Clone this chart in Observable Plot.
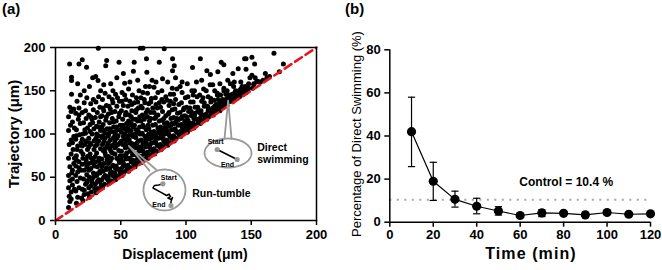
<!DOCTYPE html>
<html><head><meta charset="utf-8">
<script src="https://cdn.jsdelivr.net/npm/d3@7"></script>
<script src="https://cdn.jsdelivr.net/npm/@observablehq/plot@0.6"></script>
<style>
body{margin:0;background:#fff;font-family:"Liberation Sans",Arial,sans-serif;}
#wrap{position:relative;width:662px;height:270px;overflow:hidden;background:#fff;}
.panel{position:absolute;top:0;}
.lbl{position:absolute;font-weight:bold;color:#000;white-space:nowrap;line-height:1;}
svg [aria-label$="tick"] path, svg [aria-label$="tick"] line, svg [aria-label$="axis"] line{stroke-width:1.5px}
</style></head><body>
<div id="wrap">
  <div class="panel" id="pa" style="left:0"></div>
  <div class="panel" id="pb" style="left:330px"></div>
  <div class="lbl" style="left:2px;top:1px;font-size:15px">(a)</div>
  <div class="lbl" style="left:345px;top:1px;font-size:15px">(b)</div>
  <div class="lbl" id="xa" style="left:185px;top:247px;font-size:14px;transform:translateX(-50%)">Displacement (μm)</div>
  <div class="lbl" id="ya" style="left:13px;top:133.5px;font-size:15px;transform:translate(-50%,-50%) rotate(-90deg)">Trajectory (μm)</div>
  <div class="lbl" id="xb" style="left:531px;top:246px;font-size:16px;letter-spacing:1.1px;transform:translateX(-50%)">Time (min)</div>
  <div class="lbl" id="yb" style="left:355.5px;top:134px;font-size:13px;font-weight:normal;transform:translate(-50%,-50%) rotate(-90deg)">Percentage of Direct Swimming (%)</div>
</div>
<script>
// ---------- Panel (a): displacement vs trajectory (µm) ----------
const tracks = [
[10,15],[11,22],[10.5,28],[12,33],[10,38],[13,41],[11,46],[10,52],[12.5,55],[11,62],[14,66],[10,72],[12,77],[13.5,82],[10.5,88],[12,93],[14,97],[10,104],[11.5,110],[13,114],[10,120],[12,126],[14,129],[11,131],[12.3,146],[10.8,181],[12.3,165.7],[12.3,161.8],[14.5,107],[13,90],[14.5,72],[13,48],[14.5,36],[12,25],[13,58],
[16,20],[17,27],[15.5,34],[18,38],[16.5,45],[19,49],[17,56],[15.5,63],[18,68],[16,75],[19.5,80],[17,86],[15.5,94],[18.5,99],[16,105],[19,112],[17.5,117],[15.5,124],[18,130],[16.5,138],[19,145],[18,181],[17,158],[16,98],[19.5,58],[15.5,52],[19.5,90],[18,122],[16.5,82],[18,61],[16,70],
[21,23],[22,30],[20.5,36],[23,42],[21.5,48],[24,53],[22,58],[20.5,65],[23.5,70],[21,77],[24.5,82],[22.5,88],[20.5,94],[23,101],[24.5,107],[21.5,113],[23.5,118],[20.5,125],[22,136],[24,142],[20.5,185.7],[23.8,177.3],[22,150],[24,62],[21,100],[23,92],[24.5,74],[20.5,86],[23,127],[24.5,46],[22.5,105],[20,26],[22,35],[24,44],[23,66],[21,72],
[26,27],[27.5,33],[25.5,38],[28,44],[26,50],[29,55],[27,60],[25.5,66],[28.5,71],[26.5,77],[29.5,82],[27,88],[25.5,95],[28,100],[29.5,106],[26.5,111],[28,117],[25.5,122],[29,128],[27,135],[26,155],[28.5,165],[29,140],[27.5,72],[25.5,58],[29.5,92],[26.5,103],[28,48],[29.5,63],[27,120],[25.5,85],[28.5,113],[25,31],[27,40],[29,50],[28,67],[26,90],
[31,32],[32.5,37],[30.5,42],[33,47],[31.5,52],[34,57],[32,62],[30.5,68],[33.5,72],[31.5,78],[34.5,83],[32,88],[30.5,93],[33,98],[34.5,104],[31.5,109],[33.5,114],[30.5,119],[32,125],[34,131],[31,137],[33,143],[32.8,199],[30.8,166.5],[32.6,161.8],[34.6,150],[34,66],[30.5,86],[33,92],[31.5,100],[34.5,120],[32,54],[34,45],[30.5,74],[33,108],[30,37],[32,45],[34,55],[33,69],[31,95],
[36,38],[37.5,42],[35.5,47],[38,52],[36.5,57],[39,61],[37,66],[35.5,71],[38.5,75],[36.5,81],[39.5,86],[37,91],[35.5,96],[38,101],[39.5,106],[36.5,111],[38.5,116],[35.5,121],[37,127],[39,133],[36,140],[38,147],[39.2,185],[38.5,179],[37,157],[35.5,62],[39.5,70],[36,88],[38,95],[37,104],[39,120],[35.5,108],[38,78],[39.5,49],[36.5,130],[35,41],[37,50],[39,59],[38,83],[36,98],
[41,43],[42.5,46],[40.5,51],[43,56],[41.5,60],[44,64],[42,69],[40.5,74],[43.5,78],[41.5,83],[44.5,88],[42,93],[40.5,98],[43,103],[44.5,108],[41.5,113],[43.5,118],[40.5,123],[42,129],[44,136],[41,143],[42.3,158],[44,150],[40.5,90],[43,72],[44.5,96],[41.5,106],[43,125],[44.5,114],[40.5,66],[42.5,80],[44,52],[41,132],[43.5,140],[40,47],[42,55],[44,63],[43,86],[41,101],
[46,47],[47.5,51],[45.5,55],[48,59],[46.5,63],[49,67],[47,72],[45.5,77],[48.5,81],[46.5,86],[49.5,90],[47,95],[45.5,100],[48,105],[49.5,110],[46.5,115],[48.5,120],[45.5,126],[47,132],[49,138],[46,146],[48.7,183],[47,165],[45.5,92],[49.5,75],[46.5,108],[48,98],[45.5,84],[49,124],[47.5,142],[46,60],[48.5,70],[49.5,54],[45,51],[47,60],[49,69],[48,88],[46,103],
[51,52],[52.5,56],[50.5,60],[53,63],[51.5,67],[54,71],[52,75],[50.5,80],[53.5,84],[51.5,88],[54.5,92],[52,97],[50.5,102],[53,107],[54.5,112],[51.5,117],[53.5,122],[50.5,127],[52,133],[54,140],[51,148],[53,158.8],[52,170],[50.5,92],[54.5,78],[53,100],[51.5,110],[54,125],[50.5,70],[53.5,88],[52,64],[54.5,104],[51,138],[53,145],[54.5,58],[50,56],[52,66],[54,74],[53,94],[51,106],
[56,57],[57.5,61],[55.5,64],[58,68],[56.5,72],[59,76],[57,80],[55.5,85],[58.5,89],[56.5,93],[59.5,97],[57,102],[55.5,107],[58,112],[59.5,117],[56.5,122],[58.5,127],[55.5,132],[57,138],[59,145],[56,152],[57.5,100],[59.5,84],[56.5,110],[58,120],[55.5,95],[59,70],[57,88],[58.5,134],[56,115],[59.5,108],[57,160],[59.7,172.6],[55,61],[57,71],[59,80],[58,104],[56,98],
[61,62],[62.5,66],[60.5,69],[63,72],[61.5,76],[64,80],[62,84],[60.5,88],[63.5,92],[61.5,96],[64.5,100],[62,105],[60.5,110],[63,115],[64.5,120],[61.5,125],[63.5,130],[60.5,136],[62,142],[64,150],[60.3,183],[65,199],[63,162],[61,98],[64.5,108],[62.5,90],[60.5,78],[63,137],[64.5,70],[61.5,117],[63.5,103],[62,128],[60,65],[62,76],[64,85],[61,100],
[66,67],[67.5,71],[65.5,74],[68,77],[66.5,81],[69,85],[67,89],[65.5,93],[68.5,97],[66.5,101],[69.5,105],[67,110],[65.5,115],[68,120],[69.5,125],[66.5,130],[68.5,136],[65.5,142],[67,148],[69,155],[67,199],[69.7,187],[70,171.5],[66,100],[69.5,90],[67.5,108],[65.5,85],[68,117],[69.5,78],[66.5,122],[68,140],[65.5,132],[65,70],[67,80],[69,93],
[71,72],[72.5,76],[70.5,79],[73,82],[71.5,86],[74,90],[72,94],[70.5,98],[73.5,102],[71.5,106],[74.5,110],[72,115],[70.5,120],[73,125],[74.5,130],[71.5,135],[73.5,141],[70.5,147],[72,155],[74,162],[71,110],[74.5,96],[72.5,88],[70.5,128],[73,118],[74.5,80],[71.5,100],[73,137],[70,75],[72,85],[74,98],
[76,77],[77.5,80],[75.5,83],[78,87],[76.5,91],[79,95],[77,99],[75.5,103],[78.5,107],[76.5,111],[79.5,115],[77,120],[75.5,125],[78,130],[79.5,136],[76.5,142],[78.5,148],[75.5,154],[77,160],[79.5,183],[77,96],[79.5,104],[76,118],[78.5,122],[75.5,90],[79,86],[77,134],[75,81],[77,90],[79,103],
[81,82],[82.5,85],[80.5,88],[83,92],[81.5,96],[84,100],[82,104],[80.5,108],[83.5,112],[81.5,116],[84.5,121],[82,126],[80.5,131],[83,137],[84.5,143],[81.5,150],[83.3,198.5],[82,164],[84,90],[80.5,100],[83,118],[84.5,108],[81.5,140],[82.5,95],[80,85],[82,95],[84,107],
[86,87],[87.5,90],[85.5,93],[88,97],[86.5,101],[89,105],[87,109],[85.5,113],[88.5,118],[86.5,123],[89.5,128],[87,133],[85.5,139],[88,146],[89.5,153],[89.7,187],[89.7,173],[86,160],[88.5,110],[85.5,104],[89,95],[87,125],[88,138],[85,91],[87,99],[89,112],
[91,92],[92.5,95],[90.5,98],[93,102],[91.5,106],[94,110],[92,114],[90.5,119],[93.5,124],[91.5,129],[94.5,134],[92,140],[90.5,146],[93,152],[91,179],[92,165],[94.5,100],[91,112],[93,118],[90.5,135],[90,95],[92,104],[94,116],
[96,97],[97.5,100],[95.5,103],[98,107],[96.5,111],[99,115],[97,120],[95.5,125],[98.5,130],[96.5,136],[99.5,142],[97,148],[95.5,155],[98,104],[99.5,110],[96,118],[98,128],[97,160],[95,100],[97,108],[99,121],
[101,102],[102.5,105],[100.5,108],[103,112],[101.5,116],[104,121],[102,126],[100.5,131],[103.5,137],[101.5,143],[104.5,150],[102,110],[104,108],[100.5,120],[103,130],[105,177],[101,158],[100,105],[102,113],[104,126],
[106,107],[107.5,110],[105.5,113],[108,117],[106.5,121],[109,126],[107,131],[105.5,137],[108.5,143],[106.5,150],[109.5,114],[107,124],[105.5,145],[108,160],[106,118],[105,110],[107,118],[109,131],
[111,112],[112.5,115],[110.5,118],[113,122],[111.5,127],[114,132],[112,138],[110.5,145],[113.5,152],[111,187],[112,162],[114,117],[111,124],[113,142],[110,115],[112,122],[114,136],
[116,117],[117.5,120],[115.5,123],[118,127],[116.5,132],[119,137],[117,143],[115.5,150],[118.5,157],[116,173],[118.7,168.8],[119,122],[117,130],[115,120],[117,127],[119,141],
[121,122],[122.5,126],[120.5,130],[123,134],[121.5,139],[124,145],[122,150],[124.4,172],[120.5,157],[123,128],[124.5,140],[120,125],[122,132],[124,147],
[126,127],[127.5,131],[125.5,135],[128,140],[126.5,145],[129,150],[127,183],[129,180],[128,132],[126,158],[129.5,136],[125,130],[127,137],[129,153],
[131,133],[132.5,137],[130.5,140],[133,145],[131.5,150],[134,158],[132,162],[134.5,138],[130.5,146],[130,135],[132,142],
[136,138],[137.5,142],[135.5,146],[138,150],[136.5,155],[135.9,170],[139,144],[137,160],[135,141],[137,147],
[141,143],[142.5,147],[140.5,150],[143,155],[140,175.3],[144.9,187],[142,160],[144,146],[140,145],[142,152],
[146,148],[147.5,152],[146,175],[148,158],[149,165],[145.5,155],[146,187],[145,151],[148,153],
[151,153],[152,157],[150.5,188.8],[152.6,181],[153,165],[154,160],[150.5,168],[152,158],[155,161],
[157,160],[160.8,170],[162,165],[167.4,193.4],[174.6,181],[159,162],[171.5,172],[164,166.5]
];
const axisTicksA = [0, 50, 100, 150, 200];

// ---------- Panel (b): % direct swimming over time ----------
const timeMin = [10, 20, 30, 40, 50, 60, 70, 80, 90, 100, 110, 120];
const pctDirect = [42.0, 19.0, 10.6, 7.4, 5.2, 3.1, 4.3, 4.1, 3.4, 4.5, 3.7, 3.9];
const errLow  = [25.8, 10.1, 7.0, 3.9, 3.3, 2.6, 2.6, 3.5, 2.9, 3.8, 3.1, 3.3];
const errHigh = [58.0, 27.8, 14.4, 11.1, 7.2, 3.6, 5.8, 4.7, 3.9, 5.2, 4.3, 4.5];
const controlPct = 10.4;
const timeTicks = [0, 20, 40, 60, 80, 100, 120];
const pctTicks = [0, 20, 40, 60, 80];

const font = '"Liberation Sans", Arial, sans-serif';
const grey = "#999999";

// annotation geometry (data coordinates of panel a)
function ellipse(cx, cy, rx, ry) {
  return d3.range(0, 361, 5).map(a => [cx + rx * Math.cos(a * Math.PI / 180), cy + ry * Math.sin(a * Math.PI / 180)]);
}
const directBalloon = ellipse(132.2, 78.0, 18.0, 16.8);
const directPointer = [[129.5, 94.4], [132.3, 138.7], [134.9, 94.4]];
const directPath = [[123.9, 82.1], [139.2, 70.5]];
const tumbleBalloon = ellipse(83.5, 35.3, 16.1, 23.7);
const tumblePointer = [[72.0, 57.6], [56.2, 86.1], [77.0, 58.9]];
const tumblePath = [[82.3, 42.4], [79.0, 41.0], [75.9, 40.5], [74.7, 37.6], [80.5, 32.9], [85.1, 28.9], [87.0, 30.6], [88.1, 27.7], [86.2, 26.0], [88.5, 24.3], [89.7, 26.6], [88.5, 22.0], [88.5, 17.3]];

const pa = Plot.plot({
  width: 330, height: 270,
  marginLeft: 55, marginRight: 14, marginTop: 47, marginBottom: 50,
  style: {fontFamily: font, fontSize: "13px", fontWeight: "bold", color: "#000", background: "transparent", overflow: "visible"},
  x: {domain: [0, 200], ticks: axisTicksA, tickSize: 5, tickPadding: 4, label: null},
  y: {domain: [0, 200], ticks: axisTicksA, tickSize: 5, tickPadding: 5, label: null},
  marks: [
    Plot.dot(tracks, {x: d => d[0], y: d => d[1], r: 2.5, fill: "#000"}),
    Plot.line([[0, 0], [200, 200]], {stroke: "#e8141c", strokeWidth: 2.6, strokeDasharray: "8,4.5"}),
    Plot.line(directBalloon, {stroke: grey, strokeWidth: 1.8, fill: "#fff"}),
    Plot.line(directPointer, {stroke: grey, strokeWidth: 1.8}),
    Plot.line(directPath, {stroke: "#000", strokeWidth: 1.6}),
    Plot.dot([directPath[0], directPath[1]], {x: d => d[0], y: d => d[1], r: 2.6, fill: grey}),
    Plot.text(["Start"], {x: 122.7, y: 91.3, fontSize: 7, fontWeight: "bold"}),
    Plot.text(["End"], {x: 131.8, y: 64.7, fontSize: 7, fontWeight: "bold"}),
    Plot.text(["Direct"], {x: 154.6, y: 80.9, textAnchor: "start", lineAnchor: "bottom", fontSize: 10.5, letterSpacing: "0.4px"}),
    Plot.text(["swimming"], {x: 154.6, y: 65.9, textAnchor: "start", lineAnchor: "bottom", fontSize: 10.5, letterSpacing: "0.4px"}),
    Plot.line(tumbleBalloon, {stroke: grey, strokeWidth: 1.8, fill: "#fff"}),
    Plot.line(tumblePointer, {stroke: grey, strokeWidth: 1.8}),
    Plot.line(tumblePath, {stroke: "#000", strokeWidth: 1.5}),
    Plot.dot([tumblePath[0], tumblePath[tumblePath.length - 1]], {x: d => d[0], y: d => d[1], r: 2.6, fill: grey}),
    Plot.text(["Start"], {x: 86.8, y: 49.4, fontSize: 7, fontWeight: "bold"}),
    Plot.text(["End"], {x: 79.2, y: 17.9, fontSize: 7, fontWeight: "bold"}),
    Plot.text(["Run-tumble"], {x: 104.8, y: 26.9, textAnchor: "start", lineAnchor: "bottom", fontSize: 10.5, letterSpacing: "0.3px"}),
    Plot.frame({stroke: "#000", strokeWidth: 1.5})
  ]
});
document.getElementById("pa").appendChild(pa);

const rows = timeMin.map((t, i) => ({t, v: pctDirect[i], lo: errLow[i], hi: errHigh[i]}));
const cap = {draw(ctx) { ctx.moveTo(-3.6, 0); ctx.lineTo(3.6, 0); }};

const pb = Plot.plot({
  width: 332, height: 270,
  marginLeft: 59.3, marginRight: 12, marginTop: 49.3, marginBottom: 48.3,
  style: {fontFamily: font, fontSize: "13px", fontWeight: "bold", color: "#000", background: "transparent", overflow: "visible"},
  x: {domain: [0, 120], ticks: timeTicks, tickSize: 5, tickPadding: 3, label: null},
  y: {domain: [0, 80], ticks: pctTicks, tickSize: 5, tickPadding: 4, label: null},
  marks: [
    Plot.ruleY([controlPct], {x1: 0, x2: 120, stroke: "#a6a6a6", strokeWidth: 2, strokeDasharray: "2,5.5"}),
    Plot.ruleX(rows, {x: "t", y1: "lo", y2: "hi", stroke: "#000", strokeWidth: 1.2}),
    Plot.dot(rows, {x: "t", y: "lo", symbol: cap, fill: "none", stroke: "#000", strokeWidth: 1.2}),
    Plot.dot(rows, {x: "t", y: "hi", symbol: cap, fill: "none", stroke: "#000", strokeWidth: 1.2}),
    Plot.line(rows, {x: "t", y: "v", stroke: "#000", strokeWidth: 1.2}),
    Plot.dot(rows, {x: "t", y: "v", r: 4.6, fill: "#000"}),
    Plot.ruleX([0], {y1: 0, y2: 80, stroke: "#000", strokeWidth: 1.5}),
    Plot.ruleY([0], {x1: 0, x2: 120, stroke: "#000", strokeWidth: 1.5}),
    Plot.text(["Control = " + controlPct + " %"], {x: 81.2, y: 17, lineAnchor: "bottom", fontSize: 12})
  ]
});
document.getElementById("pb").appendChild(pb);
</script>
</body></html>
